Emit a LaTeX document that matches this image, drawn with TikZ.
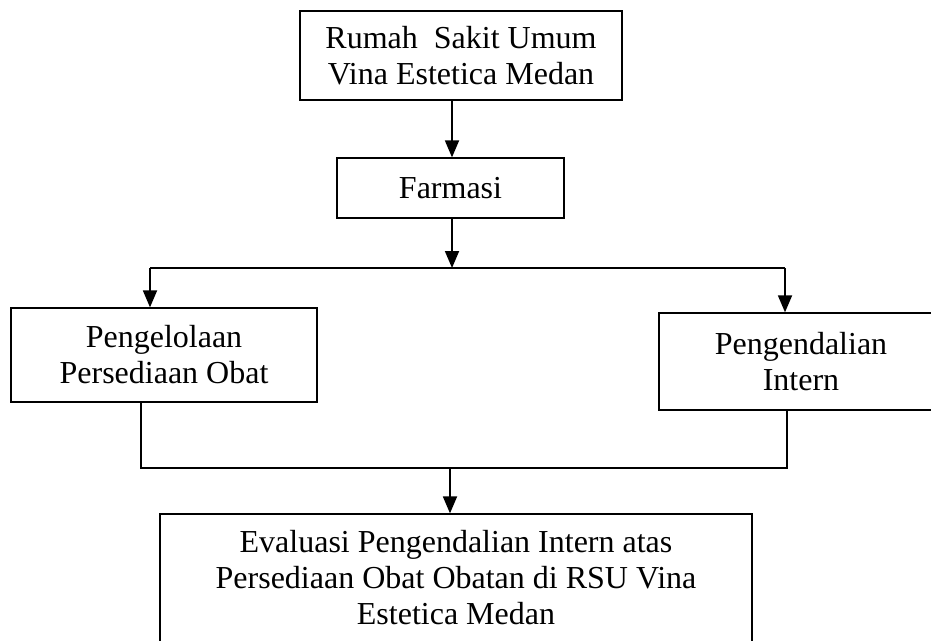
\documentclass[tikz,border=0pt]{standalone}
\usepackage{fontspec}
\setmainfont{Liberation Serif}
\usepackage{tikz}
\usetikzlibrary{arrows.meta}
\usetikzlibrary{decorations.markings}
\tikzset{boxnode/.style={draw,line width=1.3pt,align=center,inner sep=0pt,
    font=\fontsize{32}{36}\selectfont}}
\tikzset{myptr/.style={line width=1.8pt,-{Triangle[length=17pt,width=14pt]}}}
\tikzset{myline/.style={line width=1.3pt}}

\begin{document}
\begin{tikzpicture}[x=1pt,y=-1pt]

	  \useasboundingbox (0,0) rectangle (931,640);

	  \node [boxnode,minimum width=322pt,minimum height=89pt] (rs) at (461,55.5) {Rumah\ \ Sakit Umum\\Vina Estetica Medan};
	  \node [boxnode,minimum width=227pt,minimum height=60pt] (farmasi) at (450.5,188) {Farmasi};
	  \node [boxnode,minimum width=306pt,minimum height=94pt] (kelola) at (164,355) {Pengelolaan\\Persediaan Obat};
	  \node [boxnode,minimum width=284pt,minimum height=97pt] (intern) at (801,361.5) {Pengendalian\\Intern};
	  \node [boxnode,minimum width=592pt,minimum height=128pt] (eval) at (456,578) {Evaluasi Pengendalian Intern atas\\Persediaan Obat Obatan di RSU Vina\\Estetica Medan};

	  \coordinate (j1) at (452,268);
	  \coordinate (jl) at (150,268);
	  \coordinate (jr) at (785,268);
	  \coordinate (bl) at (141,468);
	  \coordinate (br) at (787,468);
	  \coordinate (j2) at (450,468);

	  \draw [myptr] (rs.south -| j1) -- (farmasi.north -| j1);
	  \draw [myptr] (farmasi.south -| j1) -- (j1);

	  \draw [myline] (jl) -- (jr);
	  \draw [myptr] (jl) -- (jl |- kelola.north);
	  \draw [myptr] (jr) -- (jr |- intern.north);

	  % lower join
	  \draw [myline] (kelola.south -| bl) -- (bl) -- (br) -- (intern.south -| br);
	  \draw [myptr] (j2) -- (j2 |- eval.north);

\end{tikzpicture}
\end{document}
